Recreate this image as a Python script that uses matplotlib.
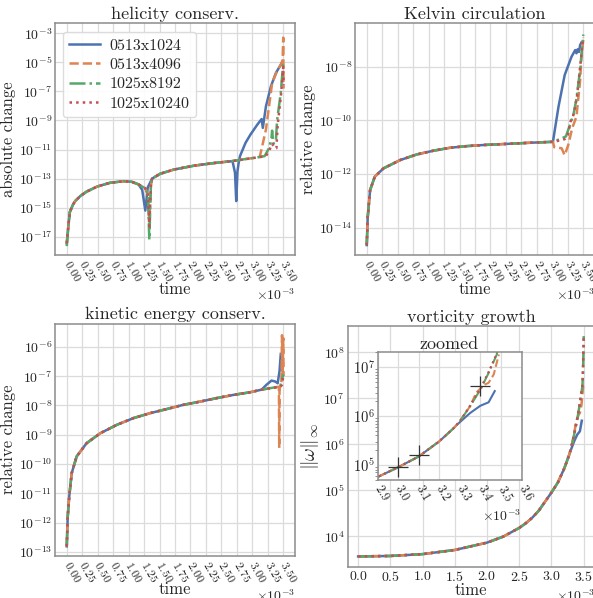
import numpy as np
import matplotlib
matplotlib.use('Agg')
import matplotlib.pyplot as plt
from matplotlib.ticker import NullLocator, LogLocator, ScalarFormatter, NullFormatter

# ---------------- data (time in units of 1e-3, values as log10) ----------------
labels = ['0513x1024', '0513x4096', '1025x8192', '1025x10240']
colors = ['#4C72B0', '#DD8452', '#55A868', '#C44E52']
styles = ['-', '--', '-.', ':']

# helicity conservation (absolute change)
hel_t_early = [0.0, 0.03, 0.05, 0.10, 0.135, 0.22, 0.32, 0.49, 0.70, 0.92, 1.05, 1.16]
hel_L_early = [-17.45, -16.1, -15.3, -14.8, -14.55, -14.2, -13.9, -13.55, -13.29, -13.18, -13.22, -13.4]
hel_t_blue_rest = [1.22, 1.27, 1.31, 1.38, 1.51, 1.73, 2.06, 2.38, 2.68, 2.72, 2.74, 2.76, 2.78, 2.80,
                   2.89, 2.97, 3.08, 3.15, 3.17, 3.22, 3.30, 3.38, 3.48]
hel_L_blue_rest = [-13.78, -15.2, -13.6, -13.0, -12.67, -12.38, -12.11, -11.93, -11.8, -12.6, -14.55,
                   -12.5, -11.9, -11.46, -10.54, -9.97, -9.29, -8.9, -9.51, -8.03, -6.66, -5.74, -5.01]
hel_t_mid = [1.22, 1.27, 1.31, 1.335, 1.36, 1.38, 1.51, 1.73, 2.06, 2.38, 2.70, 2.90, 3.07]
hel_L_mid_orange = [-13.55, -13.67, -14.1, -15.9, -13.5, -13.0, -12.67, -12.38, -12.11, -11.93, -11.78, -11.65, -11.55]
hel_L_mid_green = [-13.55, -13.67, -14.1, -17.2, -13.5, -13.0, -12.67, -12.38, -12.11, -11.93, -11.78, -11.65, -11.55]
hel_L_mid_red = [-13.55, -13.67, -14.1, -16.3, -13.5, -13.0, -12.67, -12.38, -12.11, -11.93, -11.78, -11.65, -11.55]
hel_t_tail_orange = [3.12, 3.16, 3.22, 3.27, 3.32, 3.40, 3.47, 3.49, 3.50, 3.505]
hel_L_tail_orange = [-11.5, -10.77, -9.63, -8.03, -6.43, -5.6, -5.1, -4.8, -3.3, -6.8]
hel_t_tail_green = [3.20, 3.27, 3.31, 3.32, 3.34, 3.38, 3.40, 3.46, 3.50]
hel_L_tail_green = [-11.45, -10.9, -10.2, -9.7, -10.6, -10.5, -9.0, -7.1, -5.0]
hel_t_tail_red = [3.22, 3.28, 3.32, 3.36, 3.39, 3.41, 3.46, 3.50, 3.505]
hel_L_tail_red = [-11.45, -11.0, -10.6, -10.9, -10.9, -9.3, -7.4, -5.3, -6.6]

# Kelvin circulation (relative change)
kel_t_common = [0.0, 0.016, 0.054, 0.13, 0.27, 0.54, 0.81, 1.08, 1.35, 1.62, 1.88, 2.15, 2.42, 2.69, 3.01]
kel_L_common = [-14.65, -13.6, -12.6, -12.1, -11.79, -11.48, -11.27, -11.13, -11.02, -10.96, -10.92,
                -10.89, -10.86, -10.83, -10.80]
kel_t_tail_blue = [3.10, 3.20, 3.31, 3.37, 3.39, 3.41, 3.43, 3.45, 3.47]
kel_L_tail_blue = [-9.49, -8.31, -7.63, -7.38, -7.5, -7.35, -7.45, -7.19, -7.1]
kel_t_tail_orange = [3.03, 3.15, 3.20, 3.26, 3.32, 3.39, 3.45, 3.47, 3.50]
kel_L_tail_orange = [-11.0, -11.04, -11.3, -10.9, -10.3, -9.86, -8.5, -7.63, -7.0]
kel_t_tail_green = [3.12, 3.22, 3.28, 3.34, 3.39, 3.45, 3.50]
kel_L_tail_green = [-10.7, -10.6, -10.2, -9.8, -9.2, -8.1, -6.8]
kel_t_tail_red = [3.12, 3.20, 3.25, 3.30, 3.33, 3.36, 3.40, 3.45, 3.50]
kel_L_tail_red = [-10.75, -10.7, -10.55, -10.0, -9.9, -9.6, -9.1, -8.0, -6.9]

# kinetic energy conservation (relative change)
kin_t_common = [0.0, 0.016, 0.04, 0.08, 0.16, 0.32, 0.54, 0.81, 1.08, 1.35, 1.62, 1.88, 2.15, 2.42,
                2.69, 2.96, 3.15]
kin_L_common = [-12.81, -11.79, -11.11, -10.31, -9.74, -9.29, -8.95, -8.66, -8.43, -8.26, -8.12, -7.98,
                -7.87, -7.75, -7.64, -7.55, -7.46]
kin_t_tail_blue = [3.23, 3.31, 3.37, 3.41, 3.44, 3.46]
kin_L_tail_blue = [-7.29, -7.15, -7.18, -7.24, -6.82, -6.24]
kin_t_tail_orange = [3.30, 3.43, 3.435, 3.44, 3.47, 3.48, 3.49, 3.50, 3.505]
kin_L_tail_orange = [-7.40, -7.36, -9.45, -7.4, -7.3, -5.6, -7.0, -5.7, -7.0]
kin_t_tail_green = [3.45, 3.50]
kin_L_tail_green = [-7.35, -6.94]
kin_t_tail_red = [3.45, 3.48, 3.50]
kin_L_tail_red = [-7.36, -7.3, -7.0]

# vorticity growth (max norm)
vor_t_common = [0.0, 0.5, 1.0, 1.5, 2.0, 2.25, 2.5, 2.6, 2.7, 2.8, 2.9, 3.0, 3.1, 3.2, 3.27]
vor_L_common = [3.56, 3.57, 3.61, 3.70, 3.86, 3.99, 4.18, 4.28, 4.40, 4.55, 4.75, 4.95, 5.17, 5.48, 5.75]
vor_t_tail_blue = [3.286, 3.35, 3.40, 3.44, 3.47]
vor_L_tail_blue = [5.82, 6.06, 6.21, 6.28, 6.51]
vor_t_tail_orange = [3.30, 3.35, 3.38, 3.42, 3.44, 3.465, 3.49]
vor_L_tail_orange = [5.89, 6.2, 6.48, 6.64, 6.68, 6.85, 7.26]
vor_t_tail_green = [3.30, 3.35, 3.40, 3.44, 3.48, 3.49, 3.50]
vor_L_tail_green = [5.89, 6.2, 6.54, 6.88, 7.26, 7.6, 8.35]
vor_t_tail_red = [3.30, 3.35, 3.40, 3.44, 3.48, 3.49, 3.50]
vor_L_tail_red = [5.89, 6.21, 6.56, 6.9, 7.28, 7.7, 8.35]
mark_t = [3.0, 3.1, 3.4]
mark_L = [4.95, 5.2, 6.62]

# ---------------- assemble series ----------------
hel = [
    (hel_t_early + hel_t_blue_rest, hel_L_early + hel_L_blue_rest),
    (hel_t_early + hel_t_mid + hel_t_tail_orange, hel_L_early + hel_L_mid_orange + hel_L_tail_orange),
    (hel_t_early + hel_t_mid + hel_t_tail_green, [-17.65] + hel_L_early[1:] + hel_L_mid_green + hel_L_tail_green),
    (hel_t_early + hel_t_mid + hel_t_tail_red, hel_L_early + hel_L_mid_red + hel_L_tail_red),
]
kel = [(kel_t_common + a, kel_L_common + b) for a, b in
       [(kel_t_tail_blue, kel_L_tail_blue), (kel_t_tail_orange, kel_L_tail_orange),
        (kel_t_tail_green, kel_L_tail_green), (kel_t_tail_red, kel_L_tail_red)]]
kin = [(kin_t_common + a, kin_L_common + b) for a, b in
       [(kin_t_tail_blue, kin_L_tail_blue), (kin_t_tail_orange, kin_L_tail_orange),
        (kin_t_tail_green, kin_L_tail_green), (kin_t_tail_red, kin_L_tail_red)]]
vor = [(vor_t_common + a, vor_L_common + b) for a, b in
       [(vor_t_tail_blue, vor_L_tail_blue), (vor_t_tail_orange, vor_L_tail_orange),
        (vor_t_tail_green, vor_L_tail_green), (vor_t_tail_red, vor_L_tail_red)]]

# ---------------- style ----------------
plt.rcParams.update({
    'font.family': 'serif',
    'font.serif': ['cmr10', 'DejaVu Serif'],
    'mathtext.fontset': 'cm',
    'axes.formatter.use_mathtext': True,
    'axes.edgecolor': '0.55',
    'axes.linewidth': 1.1,
    'axes.grid': True,
    'grid.color': '0.86',
    'grid.linewidth': 0.9,
    'text.color': '0.15',
    'axes.labelcolor': '0.15',
    'xtick.color': '0.15',
    'ytick.color': '0.15',
    'xtick.major.size': 0,
    'ytick.major.size': 0,
    'xtick.minor.size': 0,
    'ytick.minor.size': 0,
    'xtick.major.pad': 2,
    'ytick.major.pad': 2,
})

fig = plt.figure(figsize=(5.93, 5.98), dpi=100)
W, H = 593.0, 598.0

def pax(l, t, r, b):
    return fig.add_axes([l / W, 1 - b / H, (r - l) / W, (b - t) / H])

def draw(ax, series, lw=1.8):
    for (t, L), c, s, lab in zip(series, colors, styles, labels):
        ax.plot(np.array(t) * 1e-3, 10.0 ** np.array(L), color=c, ls=s, lw=lw, label=lab)
    ax.set_yscale('log')

def xfmt(ax, ticks, rot=True, fs=8.5):
    ax.set_xticks(np.array(ticks) * 1e-3)
    f = ScalarFormatter(useMathText=True)
    f.set_powerlimits((0, 0))
    ax.xaxis.set_major_formatter(f)
    ax.xaxis.get_offset_text().set_fontsize(10)
    ax.tick_params(axis='x', labelsize=fs)
    if rot:
        for lb in ax.get_xticklabels():
            lb.set_rotation(-60)
            lb.set_ha('left')
            lb.set_va('center')
            lb.set_rotation_mode('anchor')
        ax.tick_params(axis='x', pad=4)

def yfmt(ax, exps, lo, hi, fs=10):
    ax.set_ylim(10.0 ** lo, 10.0 ** hi)
    ax.set_yticks(10.0 ** np.array(exps, dtype=float))
    ax.yaxis.set_minor_locator(NullLocator())
    ax.tick_params(axis='y', labelsize=fs)

ticks25 = [0.25 * k for k in range(15)]
TFS, LFS = 13, 12

# helicity
ax1 = pax(55, 23, 295, 255)
draw(ax1, hel)
ax1.set_xlim(-0.19e-3, 3.69e-3)
yfmt(ax1, [-17, -15, -13, -11, -9, -7, -5, -3], -18.26, -2.29)
xfmt(ax1, ticks25)
ax1.set_title('helicity conserv.', fontsize=TFS, pad=3)
ax1.set_xlabel('time', fontsize=LFS, labelpad=-1)
ax1.set_ylabel('absolute change', fontsize=LFS, labelpad=2)
leg = ax1.legend(loc='upper left', fontsize=11.5, handlelength=1.9, handletextpad=0.6,
                 labelspacing=0.32, borderpad=0.4, framealpha=0.9, edgecolor='0.85',
                 fancybox=True, bbox_to_anchor=(0.0, 0.995))

# Kelvin
ax2 = pax(355, 23, 595, 255)
draw(ax2, kel)
ax2.set_xlim(-0.19e-3, 3.69e-3)
yfmt(ax2, [-14, -12, -10, -8], -15.02, -6.37)
xfmt(ax2, ticks25)
ax2.set_title('Kelvin circulation', fontsize=TFS, pad=3)
ax2.set_xlabel('time', fontsize=LFS, labelpad=-1)
ax2.set_ylabel('relative change', fontsize=LFS, labelpad=2)

# kinetic energy
ax3 = pax(55, 323.5, 295, 556)
draw(ax3, kin)
ax3.set_xlim(-0.19e-3, 3.69e-3)
yfmt(ax3, [-13, -12, -11, -10, -9, -8, -7, -6], -13.14, -5.2)
xfmt(ax3, ticks25)
ax3.set_title('kinetic energy conserv.', fontsize=TFS, pad=3)
ax3.set_xlabel('time', fontsize=LFS, labelpad=-2)
ax3.set_ylabel('relative change', fontsize=LFS, labelpad=2)

# vorticity
ax4 = pax(347.5, 326, 595, 567)
draw(ax4, vor)
ax4.set_xlim(-0.165e-3, 3.675e-3)
yfmt(ax4, [4, 5, 6, 7, 8], 3.33, 8.57)
xfmt(ax4, [0.5 * k for k in range(8)], rot=False, fs=10)
ax4.set_title('vorticity growth', fontsize=TFS, pad=3)
ax4.set_xlabel('time', fontsize=LFS, labelpad=-1)
ax4.set_ylabel(r'$\|\omega\|_\infty$', fontsize=14, labelpad=2)

# inset
ax5 = pax(377.5, 352, 521.5, 480)
draw(ax5, vor, lw=1.5)
ax5.plot(np.array(mark_t) * 1e-3, 10.0 ** np.array(mark_L), '+', color='0.2', ms=15, mew=0.9)
ax5.set_xlim(2.9e-3, 3.6e-3)
yfmt(ax5, [5, 6, 7], 4.69, 7.31, fs=10.5)
ax5.yaxis.set_minor_locator(LogLocator(base=10, subs=np.arange(2, 10)))
ax5.tick_params(axis='y', which='minor', length=2, color='0.5')
ax5.yaxis.set_minor_formatter(NullFormatter())
ax5.grid(True, which='major')
xfmt(ax5, [2.9, 3.0, 3.1, 3.2, 3.3, 3.4, 3.5, 3.6], fs=9)
ax5.set_title('zoomed', fontsize=TFS, pad=2)

fig.savefig('out.png', dpi=100)
